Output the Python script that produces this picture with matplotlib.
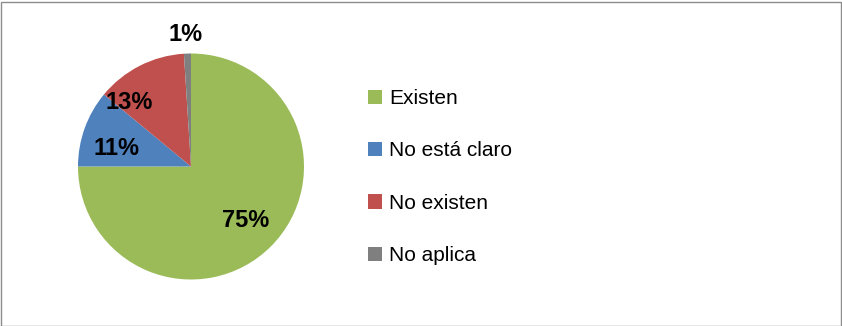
import matplotlib.pyplot as plt
import matplotlib.patches as mpatches

# Datos
categorias = ["Existen", "No está claro", "No existen", "No aplica"]
valores = [75, 11, 13, 1]
colores = ["#9BBB59", "#4F81BD", "#C0504D", "#7F7F7F"]

plt.rcParams["font.family"] = ["Liberation Sans", "DejaVu Sans"]

W, H = 842, 326
fig = plt.figure(figsize=(W / 100, H / 100), dpi=100)

# Borde del gráfico
fig.patches.append(mpatches.Rectangle((0.5 / W, 0.5 / H), 1 - 2 / W, 1 - 2 / H,
                                      transform=fig.transFigure, fill=False,
                                      edgecolor="#8C8C8C", linewidth=1.0))

# Eje del pastel (centro ~ (191, 166.5) px, radio ~113 px)
cx, cy, r = 191, 166.5, 113
ax = fig.add_axes([(cx - r) / W, (H - cy - r) / H, 2 * r / W, 2 * r / H])

wedges, textos, pcts = ax.pie(valores, colors=colores, startangle=90, counterclock=False,
                              autopct=lambda p: "%.0f%%" % p, pctdistance=0.68,
                              textprops=dict(fontsize=17, fontweight="bold", color="black"),
                              wedgeprops=dict(linewidth=0))
ax.set_xlim(-1, 1)
ax.set_ylim(-1, 1)
ax.set_aspect("equal")

# Posiciones de las etiquetas como en Excel
pos_etiquetas = [(0.48, -0.48), (-0.66, 0.155), (-0.55, 0.57), (-0.05, 1.17)]
for t, (x, y) in zip(pcts, pos_etiquetas):
    t.set_position((x, y))

# Leyenda
handles = [mpatches.Patch(facecolor=c, edgecolor="none") for c in colores]
fig.legend(handles, categorias, loc="upper left", bbox_to_anchor=(368 / W, 1 - 89 / H),
           frameon=False, fontsize=15, handlelength=0.68, handleheight=0.68,
           handletextpad=0.34, labelspacing=1.6, borderpad=0, borderaxespad=0)

fig.savefig("out.png", dpi=100)
